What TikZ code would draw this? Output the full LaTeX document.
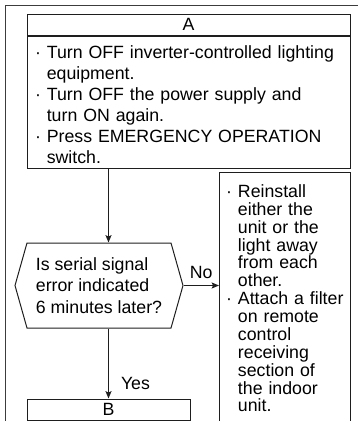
\documentclass[tikz,border=0pt]{standalone}
\usepackage{fontspec}
\setmainfont{Liberation Sans}
\usepackage{xcolor}
\usetikzlibrary{arrows.meta,positioning,shapes.symbols}
\newcommand{\flowfont}{\fontsize{13.3pt}{15.75pt}\selectfont}
\newcommand{\dotitem}{·\ }
\newcommand{\dotpad}{\hphantom{·\ }}
\definecolor{fcink}{HTML}{1E1E1E}
\definecolor{fcframe}{HTML}{3C3C3C}
\tikzset{
  frameLine/.style={draw=fcframe, line width=0.75pt},
  fcBox/.style={draw=fcink, line width=0.75pt, inner sep=0pt, font=\flowfont},
  listBox/.style={fcBox, align=left, inner ysep=0pt},
  askBox/.style={fcBox, signal, signal to=west and east, signal pointer angle=148.5, align=left, font=\fontsize{13.3pt}{16.1pt}\selectfont},
  flowArrow/.style={-{Stealth[length=5.5pt, width=4.5pt, inset=1pt]}, line width=0.75pt, draw=fcink},
  flowLabel/.style={font=\flowfont, inner sep=0pt}
}
\begin{document}
\begin{tikzpicture}[x=0.75pt, y=-0.75pt]
  \useasboundingbox (0,0) rectangle (357,421);
  \draw[frameLine] (5,5) rectangle (375,445);

  \node[fcBox, minimum width=242.25pt, minimum height=15.75pt] (atitle) at (188.5,24.5) {A};
  \node[listBox, anchor=north, text width=230.25pt, inner xsep=6pt, text height=16.5pt, text depth=82.5pt] (abody) at (atitle.south)
    {\dotitem Turn OFF inverter-controlled lighting\\ \dotpad equipment.\\
     \dotitem Turn OFF the power supply and\\ \dotpad turn ON again.\\
     \dotitem Press EMERGENCY OPERATION\\ \dotpad switch.};

  \node[askBox, minimum width=126pt, minimum height=63.75pt] (ask) at (99,285.5)
    {Is serial signal\\error indicated\\6 minutes later?};

  \node[listBox, anchor=north west, text width=88.25pt, inner xsep=5pt, text height=18.75pt, text depth=171pt,
        font=\fontsize{13.3pt}{13.4pt}\selectfont] (fix) at (219,172)
    {\dotitem Reinstall\\ \dotpad either the\\ \dotpad unit or the\\ \dotpad light away\\ \dotpad from each\\ \dotpad other.\\
     \dotitem Attach a filter\\ \dotpad on remote\\ \dotpad control\\ \dotpad receiving\\ \dotpad section of\\ \dotpad the indoor\\ \dotpad unit.};

  \node[fcBox, minimum width=122.25pt, minimum height=15.75pt] (b) at (108.5,409.5) {B};

  \draw[flowArrow] (abody.south -| b.north) -- (ask.north -| b.north);
  \draw[flowArrow] (ask.south -| b.north) -- node[flowLabel, pos=0.78, right=9pt] {Yes} (b.north);
  \draw[flowArrow] (ask.east) -- node[flowLabel, above=5pt] {No} (ask.east -| fix.west);
\end{tikzpicture}
\end{document}
